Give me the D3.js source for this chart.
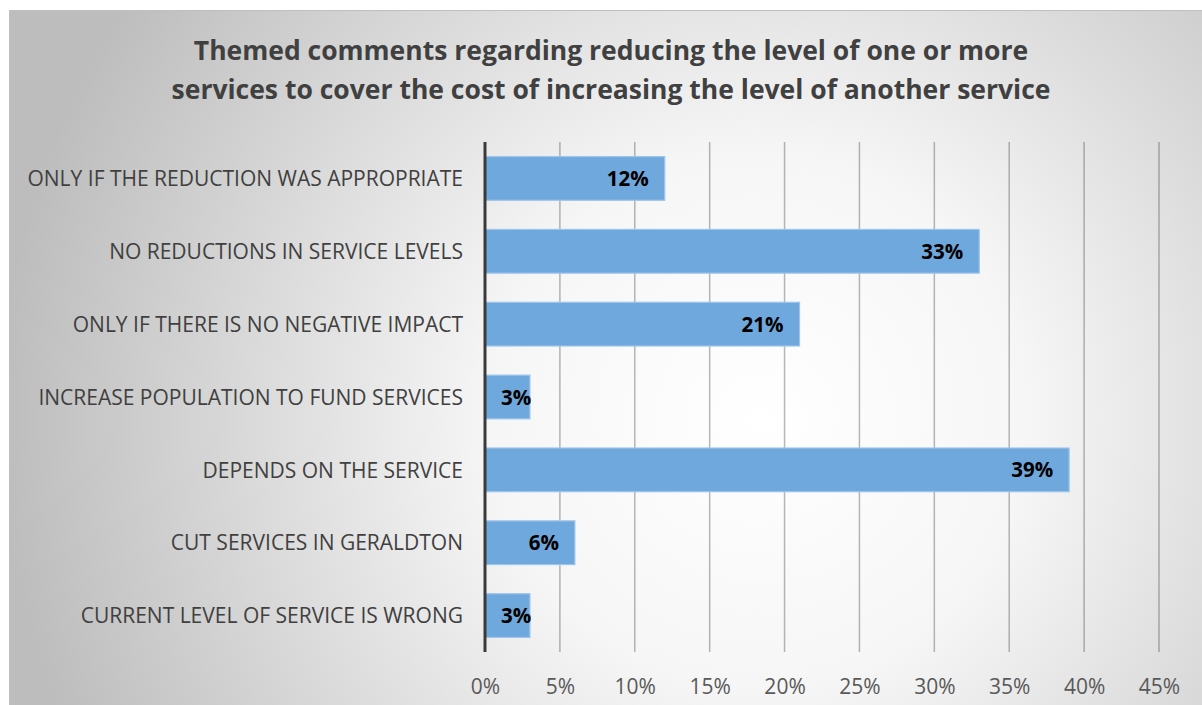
<!DOCTYPE html>
<html>
<head>
<meta charset="utf-8">
<script src="https://cdn.jsdelivr.net/npm/d3@7"></script>
<style>
  html, body { margin: 0; padding: 0; background: #fff; }
  svg { display: block; }
</style>
</head>
<body>
<svg id="chart" width="1202" height="705"></svg>
<script>
// Survey themes and share of comments
const categories = [
  "ONLY IF THE REDUCTION WAS APPROPRIATE",
  "NO REDUCTIONS IN SERVICE LEVELS",
  "ONLY IF THERE IS NO NEGATIVE IMPACT",
  "INCREASE POPULATION TO FUND SERVICES",
  "DEPENDS ON THE SERVICE",
  "CUT SERVICES IN GERALDTON",
  "CURRENT LEVEL OF SERVICE IS WRONG"
];
const values = [0.12, 0.33, 0.21, 0.03, 0.39, 0.06, 0.03];
const tickValues = [0, 0.05, 0.10, 0.15, 0.20, 0.25, 0.30, 0.35, 0.40, 0.45];
const titleLines = [
  "Themed comments regarding reducing the level of one or more",
  "services to cover the cost of increasing the level of another service"
];

const svg = d3.select("#chart");
const W = 1202, H = 705;
const frame = { x: 9.5, y: 10.5, w: W - 9, h: H - 10 };
const plot = { left: 485, right: 1159, top: 142, bottom: 652 };

// Radial background fill of the chart area
const defs = svg.append("defs");
const grad = defs.append("radialGradient")
  .attr("id", "bg")
  .attr("gradientUnits", "userSpaceOnUse")
  .attr("cx", 760).attr("cy", 420).attr("r", 760);
grad.append("stop").attr("offset", "0%").attr("stop-color", "#ffffff");
grad.append("stop").attr("offset", "35%").attr("stop-color", "#f6f6f6");
grad.append("stop").attr("offset", "100%").attr("stop-color", "#bdbdbd");

svg.append("rect")
  .attr("x", frame.x).attr("y", frame.y)
  .attr("width", frame.w).attr("height", frame.h)
  .attr("fill", "url(#bg)")
  .attr("stroke", "#bfbfbf").attr("stroke-width", 1);

const font = "'Open Sans', sans-serif";

// Title
svg.append("g").selectAll("text")
  .data(titleLines)
  .join("text")
  .attr("x", 611)
  .attr("y", (d, i) => 60 + i * 39)
  .attr("text-anchor", "middle")
  .attr("font-family", font)
  .attr("font-weight", "bold")
  .attr("font-size", 26.5)
  .attr("fill", "#404040")
  .text(d => d);

const x = d3.scaleLinear().domain([0, 0.45]).range([plot.left, plot.right]);
const y = d3.scaleBand().domain(categories).range([plot.top, plot.bottom]).paddingInner(0.4).paddingOuter(0.2);

// Vertical gridlines
svg.append("g").selectAll("line")
  .data(tickValues.slice(1))
  .join("line")
  .attr("x1", d => x(d)).attr("x2", d => x(d))
  .attr("y1", plot.top).attr("y2", plot.bottom)
  .attr("stroke", "#000").attr("stroke-opacity", 0.28).attr("stroke-width", 1.5);

// Bars
svg.append("g").selectAll("rect")
  .data(values)
  .join("rect")
  .attr("x", x(0))
  .attr("y", (d, i) => y(categories[i]))
  .attr("width", d => x(d) - x(0))
  .attr("height", y.bandwidth())
  .attr("fill", "#6fa8dc")
  .attr("stroke", "#9fc5ea").attr("stroke-width", 1.2);

// Value labels at the inside end of each bar, kept clear of the axis on short bars
svg.append("g").selectAll("text")
  .data(values)
  .join("text")
  .attr("y", (d, i) => y(categories[i]) + y.bandwidth() / 2)
  .attr("dy", "0.37em")
  .attr("text-anchor", "end")
  .attr("font-family", font)
  .attr("font-weight", "bold")
  .attr("font-size", 20.5)
  .attr("fill", "#000")
  .text(d => Math.round(d * 100) + "%")
  .attr("x", function(d) {
    const w = this.getComputedTextLength();
    return Math.max(x(d) - 16, x(0) + 16 + w);
  });

// Category axis
const yAxis = d3.axisLeft(y).tickSize(0).tickPadding(22);
const gy = svg.append("g").attr("transform", `translate(${plot.left},0)`).call(yAxis);
gy.select(".domain").remove();
gy.selectAll("text")
  .attr("dy", "0.37em")
  .attr("font-family", font).attr("font-size", 21).attr("fill", "#404040");

svg.append("line")
  .attr("x1", plot.left).attr("x2", plot.left)
  .attr("y1", plot.top).attr("y2", plot.bottom)
  .attr("stroke", "#3a3a3a").attr("stroke-width", 3);

// Value axis
const xAxis = d3.axisBottom(x).tickValues(tickValues).tickFormat(d3.format(".0%")).tickSize(0).tickPadding(27);
const gx = svg.append("g").attr("transform", `translate(0,${plot.bottom})`).call(xAxis);
gx.select(".domain").remove();
gx.selectAll("text")
  .attr("font-family", font).attr("font-size", 21).attr("fill", "#595959");
</script>
</body>
</html>
